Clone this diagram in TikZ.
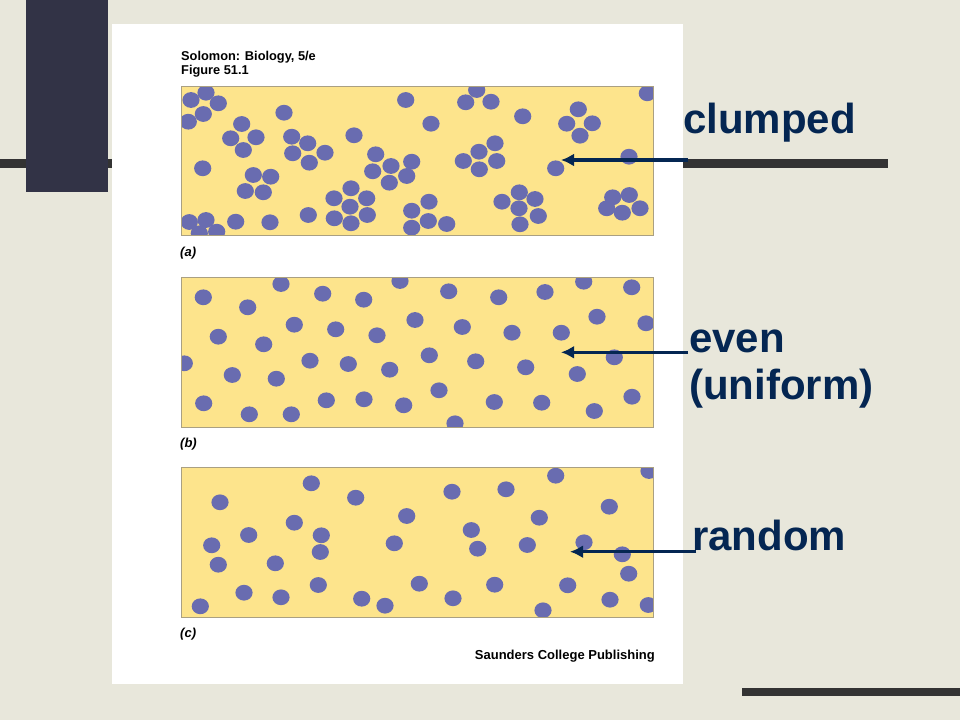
\documentclass[tikz,border=0pt]{standalone}
\usepackage{fontspec}
\setmainfont{Liberation Sans}
\usepackage{tikz}
\usetikzlibrary{arrows.meta}
\definecolor{slidebg}{RGB}{232,231,219}
\definecolor{blockcol}{RGB}{50,51,70}
\definecolor{barcol}{RGB}{51,51,51}
\definecolor{fieldcol}{RGB}{253,228,140}
\definecolor{dotcol}{RGB}{105,108,176}
\definecolor{edgecol}{RGB}{170,160,130}
\definecolor{navy}{RGB}{4,38,82}

\begin{document}
\begin{tikzpicture}[x=1pt,y=-1pt,
  lbl/.style={anchor=base west,inner sep=0,text=navy,font=\fontsize{42}{47}\selectfont\bfseries},
  small/.style={anchor=base west,inner sep=0,font=\fontsize{12.8}{15}\selectfont\bfseries},
  tag/.style={anchor=base west,inner sep=0,font=\fontsize{13}{15}\selectfont\bfseries\itshape},
  pointer/.style={navy,line width=3.5pt,-{Latex[length=13pt,width=13pt]}},
  field/.style={draw=edgecol,line width=0.8pt},
  dot/.style={fill=dotcol}]
  \useasboundingbox (0,0) rectangle (960,720);
  \fill[slidebg] (0,0) rectangle (960,720);
  \fill[barcol] (0,159) rectangle (888,168);
  \fill[barcol] (742,688) rectangle (960,696);
  \fill[blockcol] (26,0) rectangle (108,192);
  \fill[white] (112,24) rectangle (683,684);

  \node[small] (title) at (181,60.5) {Solomon: Biology, 5/e};
  \node[small] (fig) at (181,74) {Figure 51.1};

  % (a) clumped
  \fill[fieldcol] (181,86.7) rectangle (653,235.7);
  \begin{scope}
    \clip (181,86.7) rectangle (653,235.7);
    \foreach \p in {(191,100),(206,92.7),(218.3,103.3),(203.3,114),(188.3,121.7),(284,112.7),(405.7,100),
      (241.7,124),(230.7,138.3),(256,137.3),(243.3,150),(291.7,136.7),(307.7,143.3),(292.7,153.3),
      (325,152.7),(309.3,162.7),(354,135.3),(202.7,168.3),(253.3,175),(270.7,176.7),(245.3,191),
      (263.3,192.3),(375.7,154.3),(372.7,171.3),(391,166),(411.7,161.7),(406.7,176),(389.3,182.7),
      (351,188.3),(334,198.3),(366.7,198.3),(350,206.7),(334.3,218.3),(367.3,215),(351,223.3),
      (308.3,215),(270,222.3),(235.7,221.7),(189.3,222),(206,220),(199.3,233.3),(216.7,231.7),
      (411.7,210.7),(411.7,227.7),(476.7,90),(465.7,102.3),(491,101.7),(431,123.7),(522.7,116.3),
      (578.3,109.3),(566.7,123.7),(592.3,123.3),(580,135.7),(647.3,93.3),(495,143.3),(479,151.7),
      (463.3,161),(496.7,161),(479.3,169.3),(555.7,168.3),(629,156.7),(429,201.7),(428.3,221),
      (446.7,224),(502,201.7),(519.3,192.3),(535,199),(519,208.3),(538.3,216),(520,224.3),
      (612.7,197.3),(629.3,195),(606.7,208.3),(622.3,212.7),(640,208.3)}
      \fill[dot] \p ellipse (8.6 and 7.9);
  \end{scope}
  \draw[field] (181,86.7) rectangle (653,235.7);
  \node[tag] (tagA) at (180,256.5) {(a)};

  % (b) even
  \fill[fieldcol] (181,277) rectangle (653,427);
  \begin{scope}
    \clip (181,277) rectangle (653,427);
    \foreach \p in {(203.3,297.3),(247.7,307.3),(281,284),(322.7,293.7),(363.7,299.7),(400,281),(415,320),
      (218.3,336.7),(263.7,344.3),(294.3,324.7),(335.7,329.3),(377,335.3),(184.3,363.3),(310,360.7),
      (348.3,364),(389.7,369.7),(232.3,375),(276.3,378.7),(203.7,403.3),(249.3,414.3),(291.3,414.3),
      (326.3,400.3),(364,399.3),(403.7,405.3),(448.7,291.3),(498.7,297.3),(545,292),(583.7,281.7),
      (631.7,287.3),(462.3,327),(512,332.7),(561.3,332.7),(597,316.7),(646,323.3),(429.3,355.3),
      (475.7,361.3),(525.7,367.3),(577.3,374),(614.3,357.3),(439,390.3),(494.3,402),(541.7,402.7),
      (594.3,411),(632,396.7),(455,423.3)}
      \fill[dot] \p ellipse (8.6 and 7.9);
  \end{scope}
  \draw[field] (181,277) rectangle (653,427);
  \node[tag] (tagB) at (180,447) {(b)};

  % (c) random
  \fill[fieldcol] (181,467.7) rectangle (653,617.3);
  \begin{scope}
    \clip (181,467.7) rectangle (653,617.3);
    \foreach \p in {(220,502.3),(311.3,483.3),(355.7,497.7),(406.7,516),(248.7,535),(294.3,522.7),
      (321.3,535.3),(211.7,545.3),(218.3,564.7),(275.3,563.3),(320.3,552),(394.3,543.3),(244,592.7),
      (281,597.3),(318.3,585),(361.7,598.7),(385,605.7),(200.3,606.3),(419.3,583.7),(452,491.7),
      (506,489.3),(555.7,475.7),(649,471),(471.3,530),(539.3,517.7),(609.3,506.7),(477.7,548.7),
      (527.3,545),(584,542.3),(622.3,554.3),(628.7,573.7),(494.7,584.7),(453,598.3),(567.7,585.3),
      (543,610.3),(610,599.7),(648.3,605)}
      \fill[dot] \p ellipse (8.6 and 7.9);
  \end{scope}
  \draw[field] (181,467.7) rectangle (653,617.3);
  \node[tag] (tagC) at (180,637.5) {(c)};

  \node[small,anchor=base east,font=\fontsize{13}{15}\selectfont\bfseries] (pub) at (655,659) {Saunders College Publishing};

  \node[lbl] (clumped) at (683,133) {clumped};
  \node[lbl] (even) at (689,352) {even};
  \node[lbl] (uniform) at (689,399) {(uniform)};
  \node[lbl] (random) at (692,550) {random};

  \coordinate (clumpStart) at (688,160);
  \coordinate (clumpTip) at (561,160);
  \coordinate (evenStart) at (688,352.3);
  \coordinate (evenTip) at (561,352.3);
  \coordinate (randStart) at (696,551.7);
  \coordinate (randTip) at (570,551.7);
  \draw[pointer] (clumpStart) -- (clumpTip);
  \draw[pointer] (evenStart) -- (evenTip);
  \draw[pointer] (randStart) -- (randTip);
\end{tikzpicture}
\end{document}
